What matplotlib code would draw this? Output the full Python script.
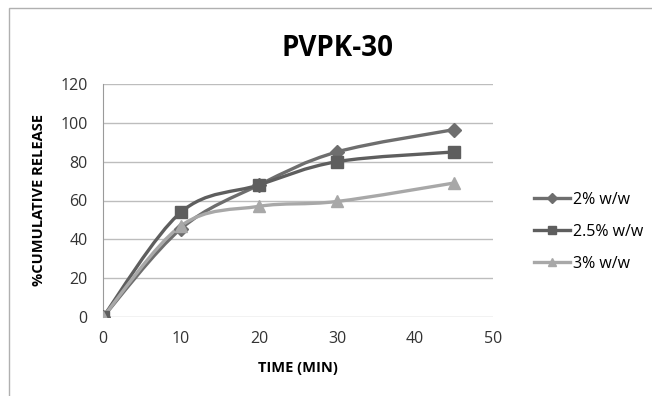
import numpy as np
import matplotlib
matplotlib.use("Agg")
import matplotlib.pyplot as plt
from matplotlib.path import Path
from matplotlib.patches import PathPatch, Rectangle
from matplotlib.lines import Line2D

plt.rcParams['font.family'] = ['Open Sans', 'DejaVu Sans']

time = [0, 10, 20, 30, 45]
s2 = [0, 45.5, 68, 85, 96.5]
s25 = [0, 54, 68, 80, 85]
s3 = [0, 47, 57, 59.5, 69]
labels = ['2% w/w', '2.5% w/w', '3% w/w']
colors = ['#6e6e6e', '#5e5e5e', '#a8a8a8']
markers = ['D', 's', '^']
msizes = [7, 9, 9]

fig = plt.figure(figsize=(6.52, 3.96), dpi=100)
fig.patches.append(Rectangle((9/652, -0.1), 1.2, 1 - 8/396 + 0.1, transform=fig.transFigure,
                             fill=False, edgecolor='#b0b0b0', linewidth=1.0))
ax = fig.add_axes([103/652, 1 - 317/396, 390/652, 233/396])


def smooth_path(x, y):
    pts = np.column_stack([x, y]).astype(float)
    n = len(pts)
    verts = [pts[0]]
    codes = [Path.MOVETO]
    for i in range(n - 1):
        p0 = pts[i - 1] if i > 0 else pts[i]
        p1 = pts[i]
        p2 = pts[i + 1]
        p3 = pts[i + 2] if i + 2 < n else pts[i + 1]
        c1 = p1 + (p2 - p0) / 6.0
        c2 = p2 - (p3 - p1) / 6.0
        verts += [c1, c2, p2]
        codes += [Path.CURVE4] * 3
    return Path(verts, codes)


for ys, c, m, ms, lab in zip([s2, s25, s3], colors, markers, msizes, labels):
    ax.add_patch(PathPatch(smooth_path(time, ys), facecolor='none', edgecolor=c,
                           linewidth=2.4, zorder=3))
    ax.plot(time, ys, linestyle='none', marker=m, markersize=ms, color=c, zorder=4)

ax.set_xlim(0, 50)
ax.set_ylim(0, 120)
ax.set_xticks(range(0, 51, 10))
ax.set_yticks(range(0, 121, 20))
ax.grid(axis='y', color='#bdbdbd', linewidth=1.0)
ax.set_axisbelow(True)
for sp in ['top', 'right', 'bottom']:
    ax.spines[sp].set_visible(False)
ax.spines['left'].set_color('#9a9a9a')
ax.tick_params(length=0, labelsize=11.5, colors='#333333')
ax.tick_params(axis='y', pad=11)
ax.tick_params(axis='x', pad=10)

ax.set_title('PVPK-30', fontsize=20, fontweight='bold', pad=20, x=0.6)
ax.set_xlabel('TIME (MIN)', fontsize=10.5, fontweight='bold', labelpad=10)
ax.set_ylabel('%CUMULATIVE RELEASE', fontsize=10.5, fontweight='bold', labelpad=10)

handles = [Line2D([], [], color=c, marker=m, markersize=ms * 0.7, linewidth=2.4)
           for c, m, ms in zip(colors, markers, msizes)]
fig.legend(handles, labels, loc='center left', bbox_to_anchor=(520/652, 1 - 232/396),
           frameon=False, fontsize=11.5, handlelength=2.2, labelspacing=1.0,
           handletextpad=0.2)

fig.savefig('out.png', dpi=100)
